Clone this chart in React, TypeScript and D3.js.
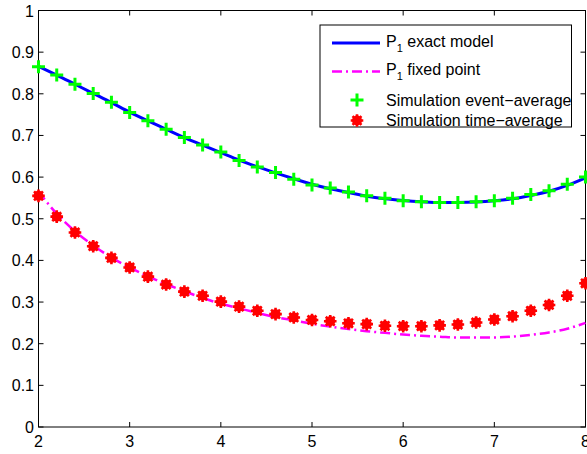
import React, { useEffect, useRef } from 'react';
import * as d3 from 'd3';

// lambda values, 2 .. 8 step 0.2
const xValues = [2, 2.2, 2.4, 2.6, 2.8, 3, 3.2, 3.4, 3.6, 3.8, 4, 4.2, 4.4, 4.6, 4.8, 5,
  5.2, 5.4, 5.6, 5.8, 6, 6.2, 6.4, 6.6, 6.8, 7, 7.2, 7.4, 7.6, 7.8, 8];

const exactModel = [0.866, 0.845, 0.823, 0.801, 0.779, 0.756, 0.735, 0.715, 0.695, 0.677,
  0.659, 0.641, 0.625, 0.610, 0.596, 0.583, 0.572, 0.563, 0.554, 0.548, 0.544, 0.541,
  0.539, 0.539, 0.540, 0.543, 0.548, 0.556, 0.566, 0.580, 0.598];

const fixedPoint = [0.565, 0.512, 0.470, 0.436, 0.407, 0.383, 0.362, 0.343, 0.326, 0.310,
  0.296, 0.285, 0.274, 0.264, 0.256, 0.248, 0.241, 0.235, 0.230, 0.226, 0.222, 0.219,
  0.217, 0.215, 0.215, 0.215, 0.217, 0.221, 0.227, 0.236, 0.250];

const eventAverage = [0.865, 0.845, 0.823, 0.801, 0.780, 0.755, 0.735, 0.715, 0.695, 0.677,
  0.660, 0.640, 0.624, 0.611, 0.595, 0.581, 0.574, 0.564, 0.555, 0.549, 0.543, 0.541,
  0.539, 0.539, 0.541, 0.543, 0.549, 0.558, 0.567, 0.583, 0.600];

const timeAverage = [0.555, 0.505, 0.467, 0.434, 0.406, 0.383, 0.361, 0.342, 0.325, 0.315,
  0.301, 0.289, 0.279, 0.271, 0.263, 0.257, 0.254, 0.249, 0.247, 0.243, 0.242, 0.242,
  0.244, 0.246, 0.251, 0.258, 0.266, 0.279, 0.293, 0.315, 0.345];

const xTicks = [2, 3, 4, 5, 6, 7, 8];
const yTicks = [0, 0.1, 0.2, 0.3, 0.4, 0.5, 0.6, 0.7, 0.8, 0.9, 1];

const legendLabels = ['exact model', 'fixed point', 'Simulation event\u2212average', 'Simulation time\u2212average'];

const W = 587, H = 454;
const FONT = '"Liberation Sans", Arial, Helvetica, sans-serif';

export default function App() {
  const ref = useRef<SVGSVGElement>(null);

  useEffect(() => {
    const svg = d3.select(ref.current);
    svg.selectAll('*').remove();

    const x = d3.scaleLinear().domain([2, 8]).range([38.5, 585.5]);
    const y = d3.scaleLinear().domain([0, 1]).range([427, 10.5]);
    const [x0, x1] = x.range();
    const [y0, y1] = y.range();

    svg.append('rect').attr('width', W).attr('height', H).attr('fill', '#fff');

    // box + ticks (inside, on all four sides)
    const ax = svg.append('g').attr('stroke', '#000').attr('stroke-width', 1).attr('fill', 'none');
    ax.append('rect').attr('x', x0).attr('y', y1).attr('width', x1 - x0).attr('height', y0 - y1);
    xTicks.forEach((t) => {
      ax.append('line').attr('x1', x(t)).attr('x2', x(t)).attr('y1', y0).attr('y2', y0 - 5);
      ax.append('line').attr('x1', x(t)).attr('x2', x(t)).attr('y1', y1).attr('y2', y1 + 5);
    });
    yTicks.forEach((t) => {
      ax.append('line').attr('x1', x0).attr('x2', x0 + 5).attr('y1', y(t)).attr('y2', y(t));
      ax.append('line').attr('x1', x1).attr('x2', x1 - 5).attr('y1', y(t)).attr('y2', y(t));
    });

    const labels = svg.append('g').attr('font-family', FONT).attr('font-size', 16).attr('fill', '#000');
    xTicks.forEach((t) => {
      labels.append('text').attr('x', x(t)).attr('y', 447).attr('text-anchor', 'middle').text(String(t));
    });
    yTicks.forEach((t) => {
      labels.append('text').attr('x', 34).attr('y', y(t) + 6).attr('text-anchor', 'end').text(d3.format('~g')(t));
    });

    const line = d3.line<number>().x((d, i) => x(xValues[i])).y((d) => y(d)).curve(d3.curveMonotoneX);

    svg.append('path').attr('d', line(exactModel)).attr('fill', 'none')
      .attr('stroke', '#0000ff').attr('stroke-width', 3);
    svg.append('path').attr('d', line(fixedPoint)).attr('fill', 'none')
      .attr('stroke', '#ff00ff').attr('stroke-width', 2.5).attr('stroke-dasharray', '10,4,2,4');

    const plus = (g: any, cx: number, cy: number) => {
      g.append('path').attr('d', `M${cx - 6.5},${cy}H${cx + 6.5}M${cx},${cy - 6.5}V${cy + 6.5}`)
        .attr('stroke', '#00ff00').attr('stroke-width', 3).attr('fill', 'none');
    };
    const star = (g: any, cx: number, cy: number) => {
      g.append('circle').attr('cx', cx).attr('cy', cy).attr('r', 5).attr('fill', '#ff0000');
      let d = '';
      for (let k = 0; k < 4; k++) {
        const a = (k * Math.PI) / 4;
        const dx = 6.3 * Math.cos(a), dy = 6.3 * Math.sin(a);
        d += `M${cx - dx},${cy - dy}L${cx + dx},${cy + dy}`;
      }
      g.append('path').attr('d', d).attr('stroke', '#ff0000').attr('stroke-width', 2.6).attr('fill', 'none');
    };

    const pts = svg.append('g');
    eventAverage.forEach((v, i) => plus(pts, x(xValues[i]), y(v)));
    timeAverage.forEach((v, i) => star(pts, x(xValues[i]), y(v)));

    // legend
    const lg = svg.append('g');
    lg.append('rect').attr('x', 320).attr('y', 25).attr('width', 251.5).attr('height', 102)
      .attr('fill', '#fff').attr('stroke', '#000').attr('stroke-width', 1);
    const rowY = [43, 71.5, 100, 120.5];
    lg.append('line').attr('x1', 332).attr('x2', 380).attr('y1', rowY[0]).attr('y2', rowY[0])
      .attr('stroke', '#0000ff').attr('stroke-width', 3);
    lg.append('line').attr('x1', 332).attr('x2', 380).attr('y1', rowY[1]).attr('y2', rowY[1])
      .attr('stroke', '#ff00ff').attr('stroke-width', 2.5).attr('stroke-dasharray', '10,4,2,4');
    plus(lg, 357, rowY[2]);
    star(lg, 357, rowY[3]);

    legendLabels.forEach((lab, i) => {
      const t = lg.append('text').attr('x', 386).attr('y', rowY[i] + (i < 2 ? 3.5 : 5.5))
        .attr('font-family', FONT).attr('font-size', 16).attr('fill', '#000');
      if (i < 2) {
        t.append('tspan').text('P');
        t.append('tspan').attr('font-size', 11).attr('dy', 5).text('1');
        t.append('tspan').attr('dy', -5).text(' ' + lab);
      } else {
        t.text(lab);
      }
    });
  }, []);

  return (
    <svg ref={ref} width={W} height={H} style={{ position: 'absolute', left: 0, top: 0 }} />
  );
}
